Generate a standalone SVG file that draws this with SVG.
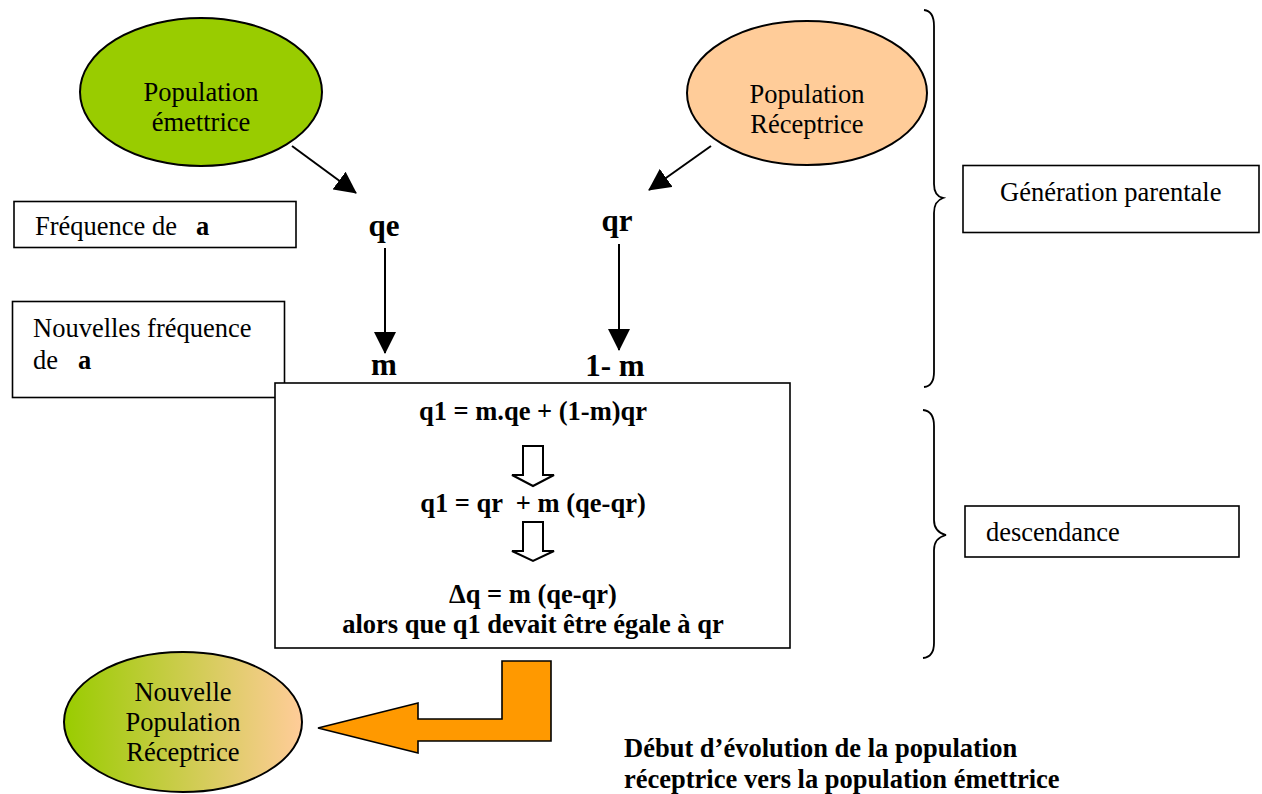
<svg xmlns="http://www.w3.org/2000/svg" width="1262" height="794" viewBox="0 0 1262 794">
  <style>
    .t { font-family: "Liberation Serif", "Times New Roman", serif; font-size: 26.5px; fill: #000; }
    .b { font-weight: bold; }
    .pre { white-space: pre; }
    .lbl { font-family: "Liberation Serif", "Times New Roman", serif; font-size: 31px; font-weight: bold; fill: #000; }
    .box { fill: #fff; stroke: #000; stroke-width: 1.6; }
    .oval { stroke: #000; stroke-width: 2; }
    .line { fill: none; stroke: #000; stroke-width: 2; }
    .brace { fill: none; stroke: #000; stroke-width: 1.8; }
    .hollow { fill: #fff; stroke: #000; stroke-width: 2; stroke-linejoin: miter; }
  </style>
  <defs>
    <marker id="head" markerUnits="userSpaceOnUse" markerWidth="22" markerHeight="22" refX="21" refY="11" orient="auto">
      <path d="M0,0 L22,11 L0,22 z" fill="#000"/>
    </marker>
    <linearGradient id="mix" x1="0" y1="0" x2="1" y2="0">
      <stop offset="0" stop-color="#99CC00"/>
      <stop offset="1" stop-color="#FFCC99"/>
    </linearGradient>
  </defs>

  <rect width="1262" height="794" fill="#fff"/>

  <!-- source populations -->
  <g id="pop-emettrice">
    <ellipse class="oval" cx="201" cy="92" rx="121" ry="74" fill="#99CC00"/>
    <text class="t" x="201" y="101" text-anchor="middle">Population</text>
    <text class="t" x="201" y="131" text-anchor="middle">émettrice</text>
  </g>
  <g id="pop-receptrice">
    <ellipse class="oval" cx="807" cy="93" rx="120" ry="72" fill="#FFCC99"/>
    <text class="t" x="807" y="103" text-anchor="middle">Population</text>
    <text class="t" x="807" y="133" text-anchor="middle">Réceptrice</text>
  </g>

  <!-- side captions -->
  <g id="freq-a">
    <rect class="box" x="14" y="201.5" width="282" height="46"/>
    <text class="t" x="35" y="235">Fréquence de <tspan class="b" x="196">a</tspan></text>
  </g>
  <g id="new-freq-a">
    <rect class="box" x="12.5" y="301.5" width="272" height="96"/>
    <text class="t" x="33" y="337">Nouvelles fréquence</text>
    <text class="t" x="33" y="369">de <tspan class="b" x="78">a</tspan></text>
  </g>

  <!-- frequency labels -->
  <g id="lbl-qe"><text class="lbl" x="384" y="236" text-anchor="middle">qe</text></g>
  <g id="lbl-qr"><text class="lbl" x="617" y="231" text-anchor="middle">qr</text></g>
  <g id="lbl-m"><text class="lbl" x="384" y="375" text-anchor="middle">m</text></g>
  <g id="lbl-1m"><text class="lbl pre" x="615" y="376" text-anchor="middle">1- m</text></g>

  <!-- connectors -->
  <g id="connectors">
    <line class="line" x1="292" y1="146" x2="356" y2="193" marker-end="url(#head)"/>
    <line class="line" x1="711" y1="146" x2="649" y2="190" marker-end="url(#head)"/>
    <line class="line" x1="385" y1="248" x2="385" y2="353" marker-end="url(#head)"/>
    <line class="line" x1="619" y1="244" x2="619" y2="350" marker-end="url(#head)"/>
    <polygon points="318,728 418,703 418,719 502,719 502,661 551,661 551,741 418,741 418,753" fill="#FF9900" stroke="#000" stroke-width="1.6" stroke-linejoin="miter"/>
  </g>

  <!-- calculation panel -->
  <g id="formulas">
    <rect class="box" x="275" y="383" width="515" height="265"/>
    <text class="t b" x="533" y="420" text-anchor="middle">q1 = m.qe + (1-m)qr</text>
    <polygon class="hollow" points="523,446 543,446 543,475 554,475 533,486 512,475 523,475"/>
    <text class="t b pre" x="533" y="512" text-anchor="middle">q1 = qr  + m (qe-qr)</text>
    <polygon class="hollow" points="523,522 543,522 543,551 554,551 533,561 512,551 523,551"/>
    <text class="t b" x="533" y="603" text-anchor="middle">Δq = m (qe-qr)</text>
    <text class="t b" x="533" y="633" text-anchor="middle">alors que q1 devait être égale à qr</text>
  </g>

  <!-- resulting population -->
  <g id="new-pop">
    <ellipse class="oval" cx="183" cy="722" rx="119" ry="70" fill="url(#mix)"/>
    <text class="t" x="183" y="701" text-anchor="middle">Nouvelle</text>
    <text class="t" x="183" y="731" text-anchor="middle">Population</text>
    <text class="t" x="183" y="761" text-anchor="middle">Réceptrice</text>
  </g>

  <!-- generation brackets -->
  <g id="gen-parentale">
    <path class="brace" d="M924,10 Q934,11 934,26 L934,184 Q934,196 943,198 Q934,201 934,213 L934,372 Q934,386 924,387"/>
    <rect class="box" x="963" y="165.5" width="296" height="67"/>
    <text class="t" x="1000" y="201">Génération parentale</text>
  </g>
  <g id="descendance">
    <path class="brace" d="M923,410 Q934,411 934,426 L934,520 Q934,532 946,535 Q934,538 934,550 L934,643 Q934,657 923,658"/>
    <rect class="box" x="965" y="506" width="274" height="51"/>
    <text class="t" x="986" y="541">descendance</text>
  </g>

  <!-- caption -->
  <g id="caption">
    <text class="t b" x="624" y="757">Début d’évolution de la population</text>
    <text class="t b" x="624" y="788">réceptrice vers la population émettrice</text>
  </g>
</svg>
